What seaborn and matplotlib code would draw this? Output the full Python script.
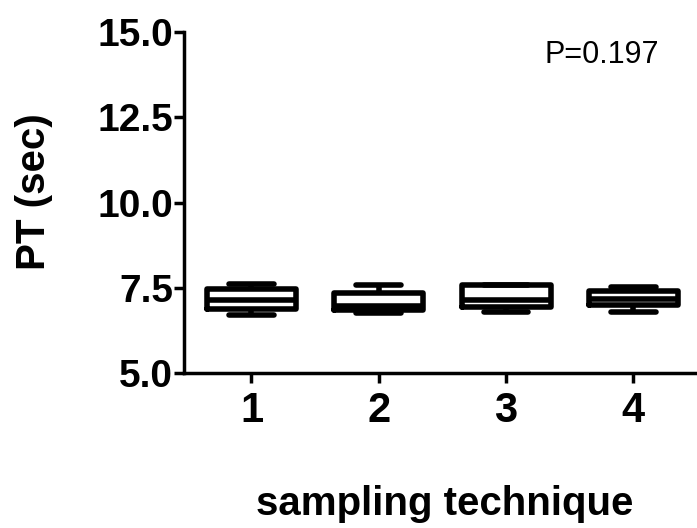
import numpy as np
import pandas as pd
import matplotlib
matplotlib.use("Agg")
import matplotlib.pyplot as plt
import seaborn as sns

categories = ["1", "2", "3", "4"]
mins    = [6.70, 6.77, 6.79, 6.79]
q1s     = [6.88, 6.85, 6.94, 7.00]
medians = [7.14, 6.96, 7.14, 7.17]
q3s     = [7.45, 7.35, 7.57, 7.41]
maxs    = [7.61, 7.59, 7.57, 7.53]
yticks = [5.0, 7.5, 10.0, 12.5, 15.0]
p_text = "P=0.197"

rows = []
for c, a, b, m, d, e in zip(categories, mins, q1s, medians, q3s, maxs):
    for v in (a, b, m, d, e):
        rows.append({"technique": c, "PT": v})
df = pd.DataFrame(rows)

sns.set_theme(style="ticks")
plt.rcParams["font.family"] = ["Liberation Sans", "DejaVu Sans"]
plt.rcParams["text.color"] = "black"
plt.rcParams["axes.labelcolor"] = "black"
plt.rcParams["xtick.color"] = "black"
plt.rcParams["ytick.color"] = "black"

fig = plt.figure(figsize=(6.97, 5.28), dpi=100)
ax = fig.add_axes([0.264, 0.2936, 0.736, 0.6454])

sns.boxplot(data=df, x="technique", y="PT", order=categories, ax=ax,
            whis=(0, 100), fill=False, color="black", linecolor="black",
            linewidth=4.0, width=0.70, showfliers=False)

ax.set_ylim(5.0, 15.0)
ax.set_xlim(-0.53, 3.5)
ax.set_yticks(yticks)
ax.set_yticklabels([f"{t:.1f}" for t in yticks], fontsize=28, fontweight="bold")
ax.set_xticks(range(len(categories)))
ax.set_xticklabels(categories, fontsize=30, fontweight="bold")
ax.tick_params(axis="both", length=7, width=2.5, color="black", labelcolor="black")
ax.tick_params(axis="y", pad=1)
ax.tick_params(axis="x", pad=6)

for s in ["left", "bottom"]:
    ax.spines[s].set_linewidth(2.5)
    ax.spines[s].set_color("black")
for s in ["top", "right"]:
    ax.spines[s].set_visible(False)

ax.set_ylabel("PT (sec)", fontsize=29, fontweight="bold", color="black")
ax.yaxis.set_label_coords(-0.255, 0.532)
ax.set_xlabel("sampling technique", fontsize=29, fontweight="bold", color="black")
ax.xaxis.set_label_coords(0.509, -0.33)

ax.text(0.925, 0.933, p_text, transform=ax.transAxes, ha="right", va="center",
        fontsize=22, color="black")

fig.savefig("out.png", dpi=100)
